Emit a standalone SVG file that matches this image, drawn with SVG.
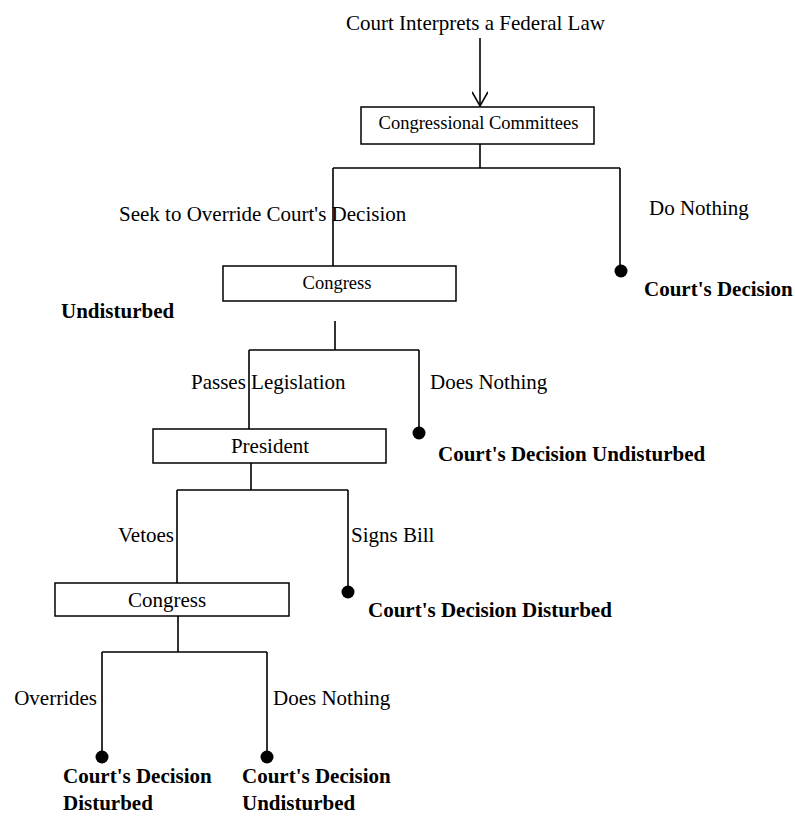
<svg xmlns="http://www.w3.org/2000/svg" width="795" height="816" viewBox="0 0 795 816">
<style>
text{font-family:"Liberation Serif","Times New Roman",serif;fill:#000}
.lbl{font-size:21px}
.box{fill:#fff;stroke:#000;stroke-width:1.5}
.bt{font-size:18.5px;text-anchor:middle}
.bt2{font-size:21px;text-anchor:middle}
.out{font-size:21px;font-weight:bold}
.ln{fill:none;stroke:#000;stroke-width:1.6}
.dot{fill:#000}
</style>
<defs>
<marker id="arr" markerWidth="20" markerHeight="16" refX="16" refY="8" orient="auto" markerUnits="userSpaceOnUse">
<path d="M2,0 L16,8 L2,16" fill="none" stroke="#000" stroke-width="1.6"/>
</marker>
</defs>
<rect width="795" height="816" fill="#fff"/>

<g id="start">
<text class="lbl" x="346" y="30">Court Interprets a Federal Law</text>
</g>

<g id="connectors">
<line class="ln" x1="480" y1="38" x2="480" y2="106" marker-end="url(#arr)"/>
<path class="ln" d="M480,144 V168 M333,168 H620 M333,168 V266 M620,168 V266"/>
<path class="ln" d="M335,321 V350 M249,350 H419 M249,350 V429 M419,350 V428"/>
<path class="ln" d="M251,463 V490 M177,490 H348 M177,490 V583 M348,490 V587"/>
<path class="ln" d="M178,616 V652 M102,652 H267 M102,652 V752 M267,652 V752"/>
<text class="lbl" x="119" y="221">Seek to Override Court's Decision</text>
<text class="lbl" x="649" y="215">Do Nothing</text>
<text class="lbl" x="191" y="389">Passes Legislation</text>
<text class="lbl" x="430" y="389">Does Nothing</text>
<text class="lbl" x="174" y="542" text-anchor="end">Vetoes</text>
<text class="lbl" x="351" y="542">Signs Bill</text>
<text class="lbl" x="97" y="705" text-anchor="end">Overrides</text>
<text class="lbl" x="273" y="705">Does Nothing</text>
</g>

<g id="committees">
<rect class="box" x="361" y="107" width="233" height="37"/>
<text class="bt" x="478.5" y="129">Congressional Committees</text>
</g>

<g id="congress1">
<rect class="box" x="223" y="266" width="233" height="35"/>
<text class="bt" x="337" y="289">Congress</text>
</g>

<g id="president">
<rect class="box" x="153" y="429" width="233" height="34"/>
<text class="bt2" x="270" y="453">President</text>
</g>

<g id="congress2">
<rect class="box" x="55" y="583" width="234" height="33"/>
<text class="bt2" x="167" y="607">Congress</text>
</g>

<g id="outcome1">
<circle class="dot" cx="621" cy="271" r="6.5"/>
<text class="out" x="644" y="296">Court's Decision</text>
<text class="out" x="61" y="318">Undisturbed</text>
</g>

<g id="outcome2">
<circle class="dot" cx="419" cy="433" r="6.5"/>
<text class="out" x="438" y="461">Court's Decision Undisturbed</text>
</g>

<g id="outcome3">
<circle class="dot" cx="348" cy="592" r="6.5"/>
<text class="out" x="368" y="617">Court's Decision Disturbed</text>
</g>

<g id="outcome4">
<circle class="dot" cx="102" cy="757" r="6.5"/>
<text class="out" x="63" y="783">Court's Decision</text>
<text class="out" x="63" y="810">Disturbed</text>
</g>

<g id="outcome5">
<circle class="dot" cx="267" cy="757" r="6.5"/>
<text class="out" x="242" y="783">Court's Decision</text>
<text class="out" x="242" y="810">Undisturbed</text>
</g>
</svg>
